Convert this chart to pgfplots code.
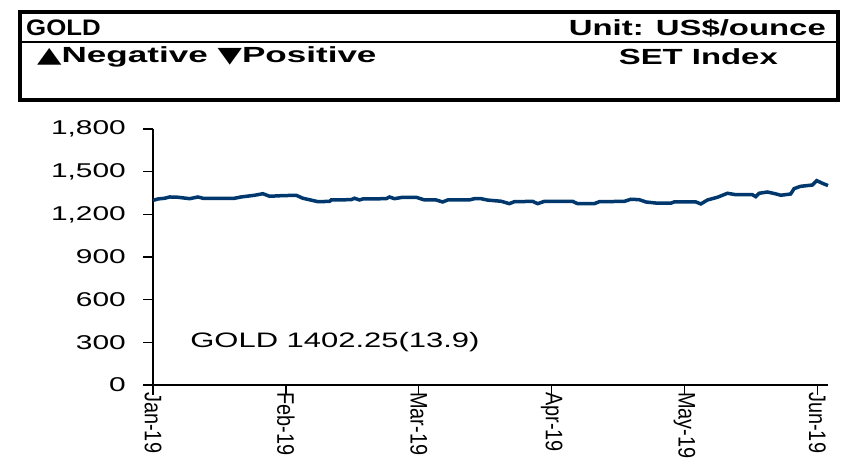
\documentclass[border=0pt]{standalone}
\usepackage{fontspec}
\setmainfont{Liberation Sans}
\newfontfamily\hdrA{Liberation Sans}[FakeStretch=1.15]
\newfontfamily\hdrB{Liberation Sans}[FakeStretch=1.5]
\newfontfamily\hdrC{Liberation Sans}[FakeStretch=1.6]
\newfontfamily\tickfont{Liberation Sans}[FakeStretch=1.5]
\newfontfamily\annfont{Liberation Sans}[FakeStretch=1.48]
\newfontfamily\symfont{DejaVu Sans}[FakeStretch=1.45]
\usepackage{pgfplots}
\pgfplotsset{compat=1.18}
\definecolor{goldline}{RGB}{0,56,110}
\begin{document}
\begin{tikzpicture}[x=1bp,y=1bp]
\path[use as bounding box] (0,0) rectangle (861,459);
% header box
\draw[line width=3.2bp] (20,447) rectangle (838,359);
\draw[line width=2bp] (20,417) -- (838,417);
\node[anchor=west,inner sep=0pt,font=\hdrA\bfseries\fontsize{22.5}{22.5}\selectfont] at (26,431) {GOLD};
\node[anchor=east,inner sep=0pt,font=\hdrB\bfseries\fontsize{22}{22}\selectfont] at (826,431) {Unit: US\$/ounce};
\node[anchor=west,inner sep=0pt,font=\hdrC\bfseries\fontsize{22}{22}\selectfont] at (37,402) {{\symfont\fontsize{22}{22}\selectfont ▲}Negative {\symfont\fontsize{22}{22}\selectfont ▼}Positive};
\node[anchor=east,inner sep=0pt,font=\hdrB\bfseries\fontsize{22}{22}\selectfont] at (778,402) {SET Index};
\begin{axis}[
  at={(153bp,74bp)}, anchor=south west,
  scale only axis, width=675bp, height=256bp,
  xmin=0, xmax=5.08, ymin=0, ymax=1800,
  axis x line*=bottom, axis y line*=left,
  axis line style={line width=1.7bp, black},
  tick style={line width=1.4bp, black},
  tick align=outside, major tick length=10bp,
  xtick={0,1,2,3,4,5},
  xticklabels={Jan-19,Feb-19,Mar-19,Apr-19,May-19,Jun-19},
  ytick={0,300,600,900,1200,1500,1800},
  /pgf/number format/1000 sep={,},
  /pgf/number format/assume math mode=true,
  yticklabel style={font=\tickfont\fontsize{20}{20}\selectfont, inner sep=0pt, xshift=-17bp},
  xticklabel style={font=\fontsize{20}{20}\selectfont, rotate=-90, yscale=1.2, anchor=west, inner sep=0pt, xshift=-3bp},
  clip=false,
]
\addplot[goldline, line width=3.5bp] table {
x y
0.000 1298
0.038 1308
0.088 1313
0.126 1322
0.188 1320
0.276 1310
0.338 1322
0.376 1313
0.614 1313
0.662 1322
0.765 1334
0.827 1345
0.877 1327
0.965 1331
1.077 1334
1.128 1313
1.241 1289
1.329 1291
1.341 1301
1.491 1303
1.517 1313
1.554 1301
1.579 1308
1.754 1310
1.780 1322
1.817 1310
1.880 1320
1.980 1320
2.043 1301
2.130 1301
2.180 1287
2.218 1301
2.381 1301
2.418 1310
2.468 1310
2.519 1300
2.619 1292
2.682 1275
2.720 1289
2.857 1291
2.895 1275
2.945 1291
3.158 1291
3.195 1275
3.321 1275
3.359 1289
3.547 1291
3.596 1306
3.659 1303
3.709 1287
3.797 1278
3.897 1278
3.922 1287
4.085 1287
4.123 1273
4.173 1301
4.248 1320
4.323 1348
4.386 1338
4.511 1338
4.536 1324
4.562 1348
4.624 1357
4.690 1343
4.724 1334
4.799 1343
4.825 1381
4.874 1397
4.962 1406
4.995 1437
5.038 1418
5.080 1402.25
};
\node[anchor=west, inner sep=0pt, font=\annfont\fontsize{21}{21}\selectfont] at (axis cs:0.28,300) {GOLD 1402.25(13.9)};
\end{axis}
\end{tikzpicture}
\end{document}
